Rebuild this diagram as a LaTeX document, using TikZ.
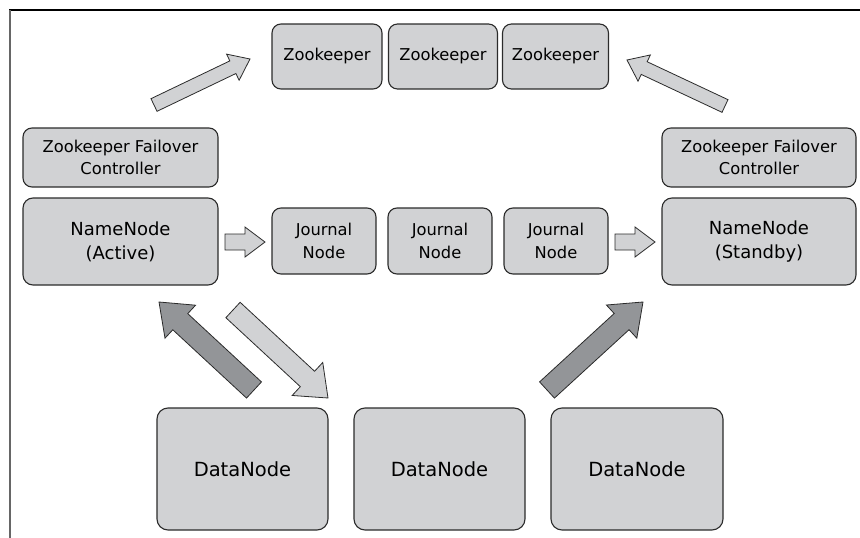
\documentclass[tikz,border=0pt]{standalone}
\usepackage{fontspec}
\setmainfont{DejaVu Sans}
\usetikzlibrary{calc}
\definecolor{boxfill}{HTML}{D1D2D4}
\definecolor{darkfill}{HTML}{939598}
\definecolor{edge}{HTML}{2B2B2B}
\newcommand\blockarrow[6]{%
  \draw[arrowline,fill=#1]
    ($(#2)!#4!90:(#3)$) --
    ($($(#3)!#6!(#2)$)!#4!-90:(#2)$) --
    ($($(#3)!#6!(#2)$)!#5!-90:(#2)$) --
    (#3) --
    ($($(#3)!#6!(#2)$)!#5!90:(#2)$) --
    ($($(#3)!#6!(#2)$)!#4!90:(#2)$) --
    ($(#2)!#4!-90:(#3)$) -- cycle;}
\begin{document}
\begin{tikzpicture}[x=1pt,y=-1pt,
  box/.style={draw=edge,line width=1.1pt,fill=boxfill,rounded corners=9pt,
    align=center,inner sep=0pt,text=black},
  smalltext/.style={font=\fontsize{16.3}{22.5}\selectfont},
  nntext/.style={font=\fontsize{18}{24}\selectfont},
  dntext/.style={font=\fontsize{19.5}{24}\selectfont},
  arrowline/.style={draw=edge,line width=0.8pt,line join=miter}]
\useasboundingbox (0,0) rectangle (860,538);
% frame
\draw[black,line width=1.2pt] (9.4,10) -- (860,10);
\draw[gray!80!black,line width=1.6pt] (10,10) -- (10,538);
% Zookeepers
\node[box,smalltext,minimum width=110pt,minimum height=65pt] (zk1) at (327,56.5) {Zookeeper};
\node[box,smalltext,minimum width=109pt,minimum height=65pt] (zk2) at (443,56.5) {Zookeeper};
\node[box,smalltext,minimum width=106pt,minimum height=65pt] (zk3) at (555.5,56.5) {Zookeeper};
% ZFCs
\node[box,smalltext,minimum width=195pt,minimum height=59pt] (zfcl) at (120.5,157.5) {Zookeeper Failover\\Controller};
\node[box,smalltext,minimum width=194pt,minimum height=59pt] (zfcr) at (759,157.5) {Zookeeper Failover\\Controller};
% NameNodes
\node[box,nntext,minimum width=195pt,minimum height=87pt,rounded corners=10pt] (nna) at (120.5,241.5) {NameNode\\(Active)};
\node[box,nntext,minimum width=194pt,minimum height=87pt,rounded corners=10pt] (nns) at (759,241.5) {NameNode\\(Standby)};
% Journal nodes
\node[box,smalltext,minimum width=104pt,minimum height=66pt] (jn1) at (324,241) {Journal\\Node};
\node[box,smalltext,minimum width=104pt,minimum height=66pt] (jn2) at (440,241) {Journal\\Node};
\node[box,smalltext,minimum width=104pt,minimum height=66pt] (jn3) at (556,241) {Journal\\Node};
% DataNodes
\node[box,dntext,minimum width=171pt,minimum height=122pt,rounded corners=11pt] (dn1) at (242.5,469) {DataNode};
\node[box,dntext,minimum width=171pt,minimum height=122pt,rounded corners=11pt] (dn2) at (439.5,469) {DataNode};
\node[box,dntext,minimum width=172pt,minimum height=122pt,rounded corners=11pt] (dn3) at (637,469) {DataNode};
% arrow anchor coordinates
\coordinate (t1) at (154,105);   \coordinate (h1) at (250,59);
\coordinate (t2) at (725,106);   \coordinate (h2) at (627,60);
\coordinate (t3) at (254,390);   \coordinate (h3) at (159,302);
\coordinate (t4) at (233,310);   \coordinate (h4) at (328,398);
\coordinate (t5) at (547,390);   \coordinate (h5) at (643,302);
\coordinate (t6) at (225,242);   \coordinate (h6) at (265,242);
\coordinate (t7) at (615,242);   \coordinate (h7) at (655,242);
% block arrows
\blockarrow{boxfill}{t1}{h1}{7pt}{14.5pt}{19pt}
\blockarrow{boxfill}{t2}{h2}{7pt}{14.5pt}{19pt}
\blockarrow{darkfill}{t3}{h3}{11pt}{22.5pt}{29pt}
\blockarrow{boxfill}{t4}{h4}{10.5pt}{22.5pt}{28pt}
\blockarrow{darkfill}{t5}{h5}{11pt}{22.5pt}{29pt}
\blockarrow{boxfill}{t6}{h6}{8pt}{15pt}{20pt}
\blockarrow{boxfill}{t7}{h7}{8pt}{15pt}{20pt}
\end{tikzpicture}
\end{document}
